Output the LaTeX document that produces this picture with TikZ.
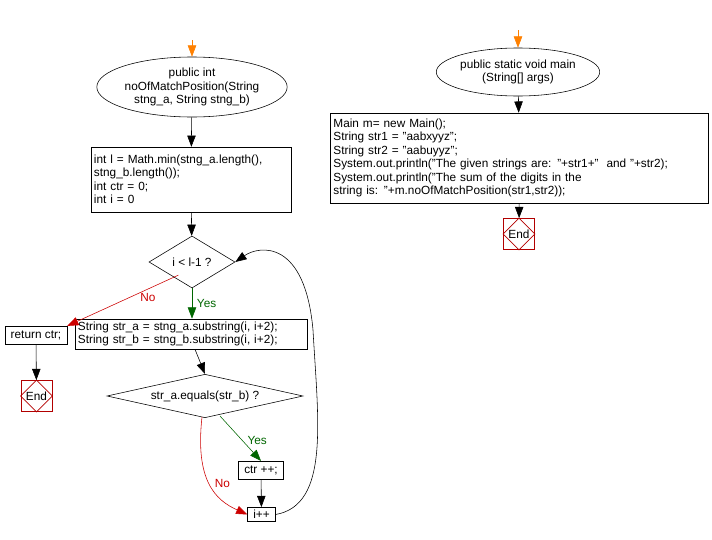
\documentclass[tikz,border=0pt]{standalone}
\usepackage{fontspec}
\setmainfont{Liberation Sans}
\usetikzlibrary{shapes.geometric,arrows.meta}
\begin{document}
\begin{tikzpicture}
		[x=0.025cm,y=-0.025cm,
		%Styles
		every node/.style={font=\fontsize{8.4}{9.6}\selectfont},
		flow/.style={-{Triangle[length=8pt,width=6pt]},thin},
		start/.style={flow,draw=orange,fill=orange,{Triangle[length=8pt,width=6pt]}-},
		proc/.style={draw,rectangle,inner sep=2pt,align=left},
		small/.style={proc,inner xsep=4pt,inner ysep=3pt},
		decide/.style={draw,diamond,aspect=#1,inner sep=1pt},
		term/.style={draw,ellipse,align=center,inner sep=0pt},
		stop/.style={draw=red!70!black,minimum size=0.78cm,inner sep=0pt}
		]
		
		%Colors
		\colorlet{yescolor}{green!40!black}
		\colorlet{nocolor}{red!80!black}
		
		%Frame
		\useasboundingbox (0,0) rectangle (712,540);
		
		%Left chart
		\node[term,minimum width=4.4cm,minimum height=1.5cm] (fn) at (192,87) {public int\\noOfMatchPosition(String\\stng\_a, String stng\_b)};
		\coordinate (fnin) at (192,40);
		\node[proc,text width=4.85cm,minimum height=1.62cm] (init) at (191,179.5) {int l = Math.min(stng\_a.length(),\\stng\_b.length());\\int ctr = 0;\\int i = 0};
		\node[decide=1.65,minimum width=2.15cm,minimum height=1.3cm] (loop) at (192,262) {i {\textless} l-1 ?};
		\node[proc,text width=5.65cm] (sub) at (191,334) {String str\_a = stng\_a.substring(i, i+2);\\String str\_b = stng\_b.substring(i, i+2);};
		\node[small] (ret) at (36,335) {return ctr;};
		\node[stop] (end1) at (36.5,396) {};
		\draw[red!70!black] (end1.north) -- (end1.east) -- (end1.south) -- (end1.west) -- cycle;
		\node at (end1) {End};
		\node[decide=3.75,minimum width=4.9cm,minimum height=1cm] (eq) at (205,396) {str\_a.equals(str\_b) ?};
		\node[small] (inc) at (261,470) {ctr ++;};
		\node[small,inner ysep=2pt] (next) at (261.5,514.5) {i++};
		\node[text=nocolor] (nolabel) at (148,297) {No};
		
		\draw[start] (fn.north) -- (fnin);
		\draw[flow] (fn) -- (init);
		\draw[flow] (init) -- (loop);
		\draw[flow,yescolor] (loop.south) -- node[right]{Yes} (sub.north -| loop.south);
		\draw[flow,nocolor] (loop.south west) ++(8,0) coordinate (lno) -- (ret.north east);
		\draw[flow] (ret) -- (end1);
		\draw[flow] (sub.south) ++(4,0) -- (eq.north);
		\draw[flow,yescolor] (eq.south) ++(15,-2) -- node[right,pos=0.55]{Yes} (inc.north);
		\draw[flow] (inc) -- (next);
		\draw[flow,nocolor] (eq.south) ++(-3,-1) .. controls (195,480) and (215,500) .. node[pos=0.5,right]{No} (next.west);
		\draw[flow] (next.east) .. controls (330,505) and (318,420) .. (313,330) .. controls (305,240) and (260,245) .. (loop.east);
		
		%Right chart
		\node[term,minimum width=3.7cm,minimum height=1.2cm] (mn) at (518,72) {public static void main\\(String[] args)};
		\coordinate (mnin) at (518,30);
		\node[proc,text width=9.3cm,minimum height=2.25cm] (body) at (519.5,158) {Main m= new Main();\\String str1 = "aabxyyz";\\String str2 = "aabuyyz";\\System.out.println("The given strings are: "+str1+"~ and "+str2);\\System.out.println("The sum of the digits in the\\string is: "+m.noOfMatchPosition(str1,str2));};
		\node[stop] (end2) at (519,234) {};
		\draw[red!70!black] (end2.north) -- (end2.east) -- (end2.south) -- (end2.west) -- cycle;
		\node at (end2) {End};
		
		\draw[start] (mn.north) -- (mnin);
		\draw[flow] (mn) -- (body);
		\draw[flow] (body) -- (end2);
	\end{tikzpicture}
\end{document}
